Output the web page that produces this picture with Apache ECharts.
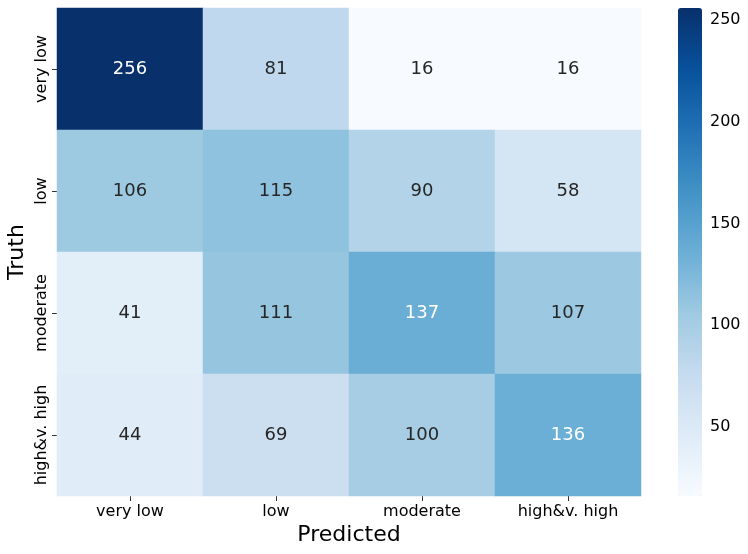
<!DOCTYPE html>
<html>
<head>
    <meta charset="utf-8">
    <title>Confusion matrix</title>
    <script src="https://cdn.jsdelivr.net/npm/echarts@6/dist/echarts.min.js"></script>
    <style>
        html, body { margin: 0; padding: 0; background: #fff; }
        #chart { width: 748px; height: 554px; }
    </style>
</head>
<body>
<div id="chart"></div>
<script type="text/javascript">
    // 类别（预测 / 真实）
    var predicted = ['very low', 'low', 'moderate', 'high&v. high'];
    var truth = ['very low', 'low', 'moderate', 'high&v. high'];
    // 每一行是一个真实类别
    var rowVeryLow = [256, 81, 16, 16];
    var rowLow = [106, 115, 90, 58];
    var rowModerate = [41, 111, 137, 107];
    var rowHigh = [44, 69, 100, 136];
    var colorbarTicks = [50, 100, 150, 200, 250];
    var vmin = 16, vmax = 256;

    var blues = ['#f7fbff', '#deebf7', '#c6dbef', '#9ecae1', '#6baed6',
                 '#4292c6', '#2171b5', '#08519c', '#08306b'];

    var rows = [rowVeryLow, rowLow, rowModerate, rowHigh];
    var cells = [];
    rows.forEach(function (row, y) {
        row.forEach(function (v, x) {
            cells.push({
                value: [x, y, v],
                label: { color: v >= 130 ? '#ffffff' : '#262626' }
            });
        });
    });

    var font = 'DejaVu Sans';
    var myChart = echarts.init(document.getElementById('chart'));
    myChart.setOption({
        animation: false,
        textStyle: { fontFamily: font },
        grid: [
            { left: 57, top: 8, width: 584, height: 488, outerBoundsMode: 'none', containLabel: false },
            { left: 678, top: 8, width: 24, height: 488, outerBoundsMode: 'none', containLabel: false }
        ],
        xAxis: [
            {
                type: 'category',
                data: predicted,
                gridIndex: 0,
                name: 'Predicted',
                nameLocation: 'middle',
                nameGap: 28,
                nameMoveOverlap: false,
                nameTextStyle: { fontSize: 22, color: '#000', fontFamily: font },
                axisLine: { show: false },
                axisTick: { show: true, alignWithLabel: true, length: 5, lineStyle: { color: '#333' } },
                axisLabel: { fontSize: 16, color: '#000', margin: 8, interval: 0, fontFamily: font },
                splitLine: { show: false }
            },
            { type: 'value', gridIndex: 1, show: false }
        ],
        yAxis: [
            {
                type: 'category',
                data: truth,
                inverse: true,
                gridIndex: 0,
                name: 'Truth',
                nameLocation: 'middle',
                nameGap: 29,
                nameMoveOverlap: false,
                nameTextStyle: { fontSize: 22, color: '#000', fontFamily: font },
                axisLine: { show: false },
                axisTick: { show: true, alignWithLabel: true, length: 5, lineStyle: { color: '#333' } },
                axisLabel: { fontSize: 16, color: '#000', rotate: 90, margin: 7, interval: 0, fontFamily: font },
                splitLine: { show: false }
            },
            {
                type: 'value',
                gridIndex: 1,
                position: 'right',
                min: vmin,
                max: vmax,
                axisLine: { show: false },
                axisTick: { show: true, length: 4, lineStyle: { color: '#333' }, customValues: colorbarTicks },
                axisLabel: { fontSize: 16, color: '#000', margin: 8, fontFamily: font, customValues: colorbarTicks },
                splitLine: { show: false }
            }
        ],
        visualMap: {
            type: 'continuous',
            min: vmin,
            max: vmax,
            seriesIndex: 0,
            dimension: 2,
            calculable: false,
            left: 678,
            top: 8,
            padding: 0,
            itemWidth: 24,
            itemHeight: 488,
            text: null,
            showLabel: false,
            inRange: { color: blues }
        },
        series: [
            {
                type: 'heatmap',
                xAxisIndex: 0,
                yAxisIndex: 0,
                data: cells,
                label: {
                    show: true,
                    fontSize: 18,
                    fontFamily: font,
                    formatter: function (p) { return p.value[2]; }
                },
                itemStyle: { borderWidth: 0 },
                emphasis: { disabled: true }
            }
        ]
    });
</script>
</body>
</html>
